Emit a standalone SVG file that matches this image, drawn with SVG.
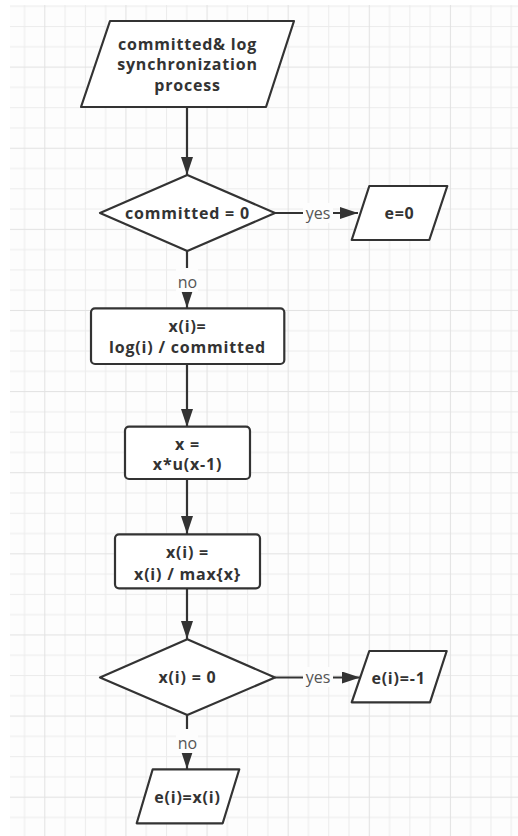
<svg xmlns="http://www.w3.org/2000/svg" width="518" height="836" viewBox="0 0 518 836">
<defs>
<pattern id="grid" patternUnits="userSpaceOnUse" x="44.3" y="66.6" width="81.12" height="81.12">
<rect x="0" y="0" width="81.12" height="81.12" fill="#fdfdfd"/>
<g fill="#ececec">
<rect x="20.28" y="0" width="1" height="81.12"/>
<rect x="40.56" y="0" width="1" height="81.12"/>
<rect x="60.84" y="0" width="1" height="81.12"/>
<rect x="0" y="20.28" width="81.12" height="1"/>
<rect x="0" y="40.56" width="81.12" height="1"/>
<rect x="0" y="60.84" width="81.12" height="1"/>
</g>
<rect x="0" y="0" width="1" height="81.12" fill="#e2e2e2"/>
<rect x="0" y="0" width="81.12" height="1" fill="#e2e2e2"/>
</pattern>
<marker id="arr" viewBox="0 0 18 12" refX="18" refY="6" markerWidth="18" markerHeight="12" markerUnits="userSpaceOnUse" orient="auto">
<path d="M0,0 L18,6 L0,12 Z" fill="#333"/>
</marker>
</defs>
<style>
.shape{fill:#fff;stroke:#333;stroke-width:2.2;stroke-linejoin:round}
.t{font-family:"Open Sans","Noto Sans","Liberation Sans",sans-serif;font-size:16px;font-weight:bold;fill:#333;text-anchor:middle;letter-spacing:0.8px}
.lbl{font-family:"Open Sans","Noto Sans","Liberation Sans",sans-serif;font-size:16px;fill:#555;text-anchor:middle}
.c{fill:none;stroke:#333;stroke-width:2.2}
.bg{fill:#fdfdfd}
</style>
<rect x="0" y="0" width="518" height="836" fill="#fff"/>
<rect x="10" y="5" width="508" height="831" fill="url(#grid)"/>

<g id="connectors">
<path class="c" d="M187,107 V175" marker-end="url(#arr)"/>
<path class="c" d="M275,213 H358" marker-end="url(#arr)"/>
<rect class="bg" x="303" y="203" width="30" height="20"/>
<text class="lbl" x="318" y="218.5">yes</text>
<path class="c" d="M187,251 V308" marker-end="url(#arr)"/>
<rect class="bg" x="176" y="268" width="22" height="24"/>
<text class="lbl" x="187.5" y="287.5">no</text>
<path class="c" d="M187,364 V427" marker-end="url(#arr)"/>
<path class="c" d="M187,479 V534" marker-end="url(#arr)"/>
<path class="c" d="M187,588 V639" marker-end="url(#arr)"/>
<path class="c" d="M275,677.5 H360" marker-end="url(#arr)"/>
<rect class="bg" x="303" y="667" width="30" height="20"/>
<text class="lbl" x="318" y="683">yes</text>
<path class="c" d="M187,715 V769" marker-end="url(#arr)"/>
<rect class="bg" x="176" y="729" width="22" height="24"/>
<text class="lbl" x="187.5" y="748.5">no</text>
</g>

<g id="start">
<polygon class="shape" points="110,21 294,21 266,107 81,107"/>
<text class="t" x="187.5" y="49.5">committed&amp; log</text>
<text class="t" x="187.5" y="70">synchronization</text>
<text class="t" x="187.5" y="90.5">process</text>
</g>

<g id="dec1">
<polygon class="shape" points="187.3,175 275,213 187.3,251 100,213"/>
<text class="t" x="187.5" y="219">committed = 0</text>
</g>

<g id="e0">
<polygon class="shape" points="369.3,186 447.3,186 429.3,240 351.7,240"/>
<text class="t" x="399.5" y="219">e=0</text>
</g>

<g id="box1">
<rect class="shape" x="91" y="308.3" width="193.3" height="55.7" rx="4"/>
<text class="t" x="187.5" y="331.5">x(i)=</text>
<text class="t" x="187.5" y="352.5">log(i) / committed</text>
</g>

<g id="box2">
<rect class="shape" x="125" y="426.7" width="125" height="52.3" rx="4"/>
<text class="t" x="187.5" y="449.5">x =</text>
<text class="t" x="187.5" y="470">x*u(x-1)</text>
</g>

<g id="box3">
<rect class="shape" x="115" y="534.3" width="145" height="54" rx="4"/>
<text class="t" x="187.5" y="558">x(i) =</text>
<text class="t" x="187.5" y="579.5">x(i) / max{x}</text>
</g>

<g id="dec2">
<polygon class="shape" points="187.3,639.3 275,677.5 187.3,715 100,677.5"/>
<text class="t" x="187.5" y="683">x(i)  =  0</text>
</g>

<g id="em1">
<polygon class="shape" points="369.3,651 446.7,651 430,702.3 351.7,702.3"/>
<text class="t" x="398.5" y="683.5">e(i)=-1</text>
</g>

<g id="exi">
<polygon class="shape" points="152.7,769.3 239.3,769.3 222.7,823.3 136.7,823.3"/>
<text class="t" x="187.5" y="802.5">e(i)=x(i)</text>
</g>
</svg>
